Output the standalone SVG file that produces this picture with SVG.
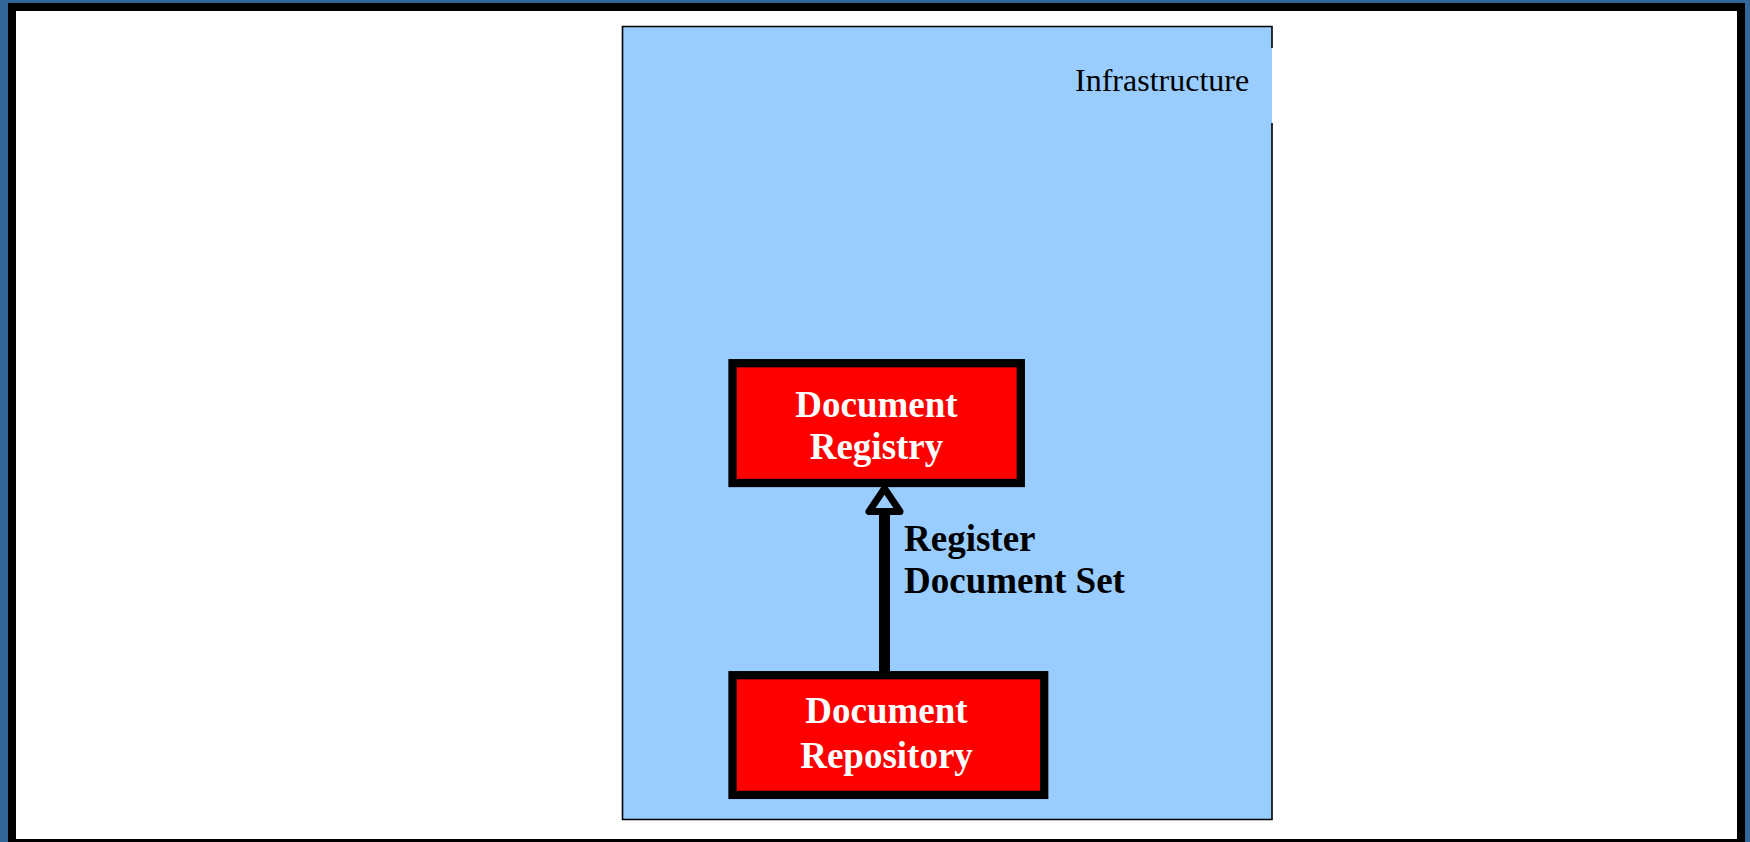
<svg xmlns="http://www.w3.org/2000/svg" width="1750" height="842" viewBox="0 0 1750 842">
<style>
.node rect.box{fill:#FF0000;stroke:#000000;stroke-width:8.3}
.lbl{font-family:"Liberation Serif","Times New Roman",serif;font-weight:bold;font-size:37px}
.white{fill:#FFFFFF}
.black{fill:#000000}
</style>
<g id="frame">
<rect x="0" y="0" width="1750" height="842" fill="#336699"/>
<rect x="8" y="3" width="1737" height="842" fill="#000000"/>
<rect x="16" y="11" width="1721" height="828" fill="#FFFFFF"/>
</g>
<g id="infrastructure">
<rect x="622.5" y="26.5" width="649.5" height="793" fill="#99CCFF"/>
<path d="M1272 48 L1272 26.5 L622.5 26.5 L622.5 819.5 L1272 819.5 L1272 123" fill="none" stroke="#000000" stroke-width="1.6"/>
<text x="1075" y="90.7" font-family="'Liberation Serif','Times New Roman',serif" font-size="32" fill="#000000">Infrastructure</text>
</g>
<g id="connectors">
<line x1="884.5" y1="511" x2="884.5" y2="672" stroke="#000000" stroke-width="11"/>
<polygon points="884.5,488.5 869,511.5 900,511.5" fill="#99CCFF" stroke="#000000" stroke-width="7" stroke-linejoin="round"/>
<text class="lbl black" x="904" y="551">Register</text>
<text class="lbl black" x="904" y="592.7">Document Set</text>
</g>
<g id="document-registry" class="node">
<rect class="box" x="732.5" y="363.2" width="288.3" height="119.8"/>
<text class="lbl white" x="876.5" y="416.7" text-anchor="middle">Document</text>
<text class="lbl white" x="876.5" y="458.5" text-anchor="middle">Registry</text>
</g>
<g id="document-repository" class="node">
<rect class="box" x="732.5" y="675.2" width="311.7" height="119.7"/>
<text class="lbl white" x="886.5" y="723.3" text-anchor="middle">Document</text>
<text class="lbl white" x="886.5" y="767.5" text-anchor="middle">Repository</text>
</g>
</svg>
